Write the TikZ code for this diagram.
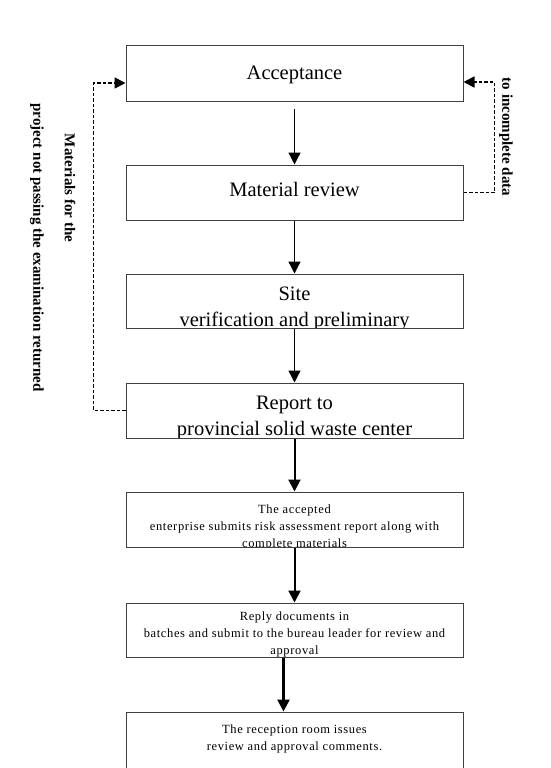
\documentclass[tikz,border=0pt]{standalone}
\usepackage{fontspec}
\setmainfont{Liberation Serif}
\newfontfamily\spacedserif[LetterSpace=5]{Liberation Serif}
\usetikzlibrary{arrows.meta}
\tikzset{
  x=1pt,y=-1pt,
  box/.style n args={4}{draw=black!75, line width=1pt, minimum width=337pt, minimum height=#1, inner sep=0pt,
    path picture={\node[anchor=base, align=center, inner sep=0pt, font=#3] at ([yshift=-#2]path picture bounding box.north) {#4};}},
  flow/.style={line width=1.3pt, -{Triangle[length=12pt,width=12pt]}},
  flowb/.style={line width=2pt, -{Triangle[length=12pt,width=12pt]}},
  flowc/.style={line width=2.6pt, -{Triangle[length=12pt,width=12pt]}},
  back/.style={line width=1.7pt, dash pattern=on 3.5pt off 2pt, -{Triangle[length=11pt,width=11pt]}},
  side/.style={font=\bfseries\fontsize{15}{17}\selectfont, rotate=-90, inner sep=0pt},
}
\newcommand{\bigf}{\fontsize{20.5}{26}\selectfont}
\newcommand{\smallf}{\spacedserif\fontsize{12.5}{17}\selectfont}
\begin{document}
\begin{tikzpicture}
\useasboundingbox[fill=white] (0,0) rectangle (551,768);
\node[box={55pt}{33pt}{\bigf}{Acceptance}] (n1) at (294.5,73.5) {};
\node[box={55pt}{31pt}{\bigf}{Material review}] (n2) at (294.5,192.5) {};
\node[box={54pt}{52pt}{\bigf}{Site\\verification and preliminary}] (n3) at (294.5,301) {};
\node[box={55pt}{52pt}{\bigf}{Report to\\provincial solid waste center}] (n4) at (294.5,410.5) {};
\node[box={55pt}{55pt}{\smallf}{The accepted\\enterprise submits risk assessment report along with\\complete materials}] (n5) at (294.5,519.5) {};
\node[box={54pt}{51pt}{\smallf}{Reply documents in\\batches and submit to the bureau leader for review and\\approval}] (n6) at (294.5,630) {};
\node[box={64pt}{38pt}{\smallf}{The reception room issues\\review and approval comments.}] (n7) at (294.5,744) {};

\draw[flow, shorten <=7pt] (n1.south) -- (n2.north);
\draw[flow] (n2.south) -- (n3.north);
\draw[flow] (n3.south) -- (n4.north);
\draw[flowb] (n4.south) -- (n5.north);
\draw[flowb] (n5.south) -- (n6.north);
\draw[flowc] ([xshift=-11pt]n6.south) -- ([xshift=-11pt]n7.north);

\draw[back] (n4.west) -- ++(-32,0) |- ([yshift=-9.5pt]n1.west);
\draw[back] (n2.east) -- ++(31,0) |- ([yshift=-8.5pt]n1.east);

\node[side] (rt) at (506,137) {to incomplete data};
\node[side] (lt1) at (70,188) {Materials for the};
\node[side] (lt2) at (37,247.5) {project not passing the examination returned};
\end{tikzpicture}
\end{document}
